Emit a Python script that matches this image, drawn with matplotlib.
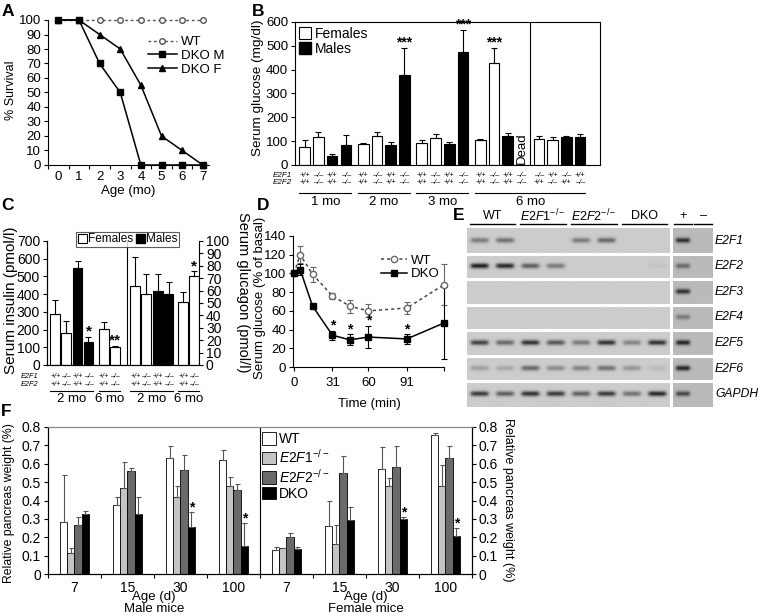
import numpy as np
import matplotlib
matplotlib.use('Agg')
import matplotlib.pyplot as plt
from matplotlib.transforms import blended_transform_factory as btf
from matplotlib.patches import Patch

plt.rcParams['font.family'] = ['Liberation Sans', 'DejaVu Sans']
plt.rcParams['mathtext.fontset'] = 'custom'
plt.rcParams['mathtext.rm'] = 'Liberation Sans'
plt.rcParams['mathtext.it'] = 'Liberation Sans:italic'
plt.rcParams['axes.linewidth'] = 0.8
plt.rcParams['xtick.major.width'] = 0.8
plt.rcParams['ytick.major.width'] = 0.8

# ---------------- data ----------------
# A: survival
age_mo = [0, 1, 2, 3, 4, 5, 6, 7]
surv_wt = [100, 100, 100, 100, 100, 100, 100, 100]
surv_dko_m = [100, 100, 70, 50, 0, 0, 0, 0]
surv_dko_f = [100, 100, 90, 80, 55, 20, 10, 0]

# B: serum glucose (mg/dl), groups of 4 bars
b_group_labels = ['1 mo', '2 mo', '3 mo', '6 mo']
b_vals = [[74, 116, 39, 84], [88, 121, 84, 377], [91, 114, 88, 474],
          [105, 426, 121, None], [110, 105, 119, 119]]
b_err = [[31, 24, 6, 42], [5, 19, 14, 114], [12, 14, 10, 94],
         [5, 65, 12, None], [11, 11, 2, 9]]
b_sex = [['F', 'F', 'M', 'M']] * 5
b_e2f1 = [['+/+', '–/–', '+/+', '–/–']] * 4 + [['–/–', '+/+', '–/–', '+/+']]
b_e2f2 = [['+/+', '–/–', '+/+', '–/–']] * 5
b_stars = {(1, 3): '***', (2, 3): '***', (3, 1): '***'}

# C: insulin / glucagon
c_ins_vals = [290, 180, 548, 130, 205, 100]
c_ins_err = [75, 70, 37, 30, 38, 9]
c_ins_sex = ['F', 'F', 'M', 'M', 'F', 'F']
c_ins_stars = {3: '*', 5: '**'}
c_glu_vals = [64, 57, 60, 57, 51, 72]
c_glu_err = [23, 16, 13, 10, 8, 4]
c_glu_sex = ['F', 'F', 'M', 'M', 'F', 'F']
c_glu_stars = {5: '*'}
c_e2f1 = ['+/+', '–/–', '+/+', '–/–', '+/+', '–/–']
c_e2f2 = ['+/+', '–/–', '+/+', '–/–', '+/+', '–/–']
c_group_labels = ['2 mo', '6 mo', '2 mo', '6 mo']

# D: glucose tolerance (% basal)
d_time = [0, 5, 15, 31, 45, 60, 91, 121]
d_wt = [100, 120, 99, 76, 65, 60, 63, 88]
d_wt_err = [0, 9, 8, 3, 7, 7, 6, 22]
d_dko = [100, 104, 65, 34, 29, 32, 30, 47]
d_dko_err = [0, 6, 0, 5, 6, 12, 5, 38]
d_star_times = [31, 45, 60, 91]

# E: RT-PCR gel band intensities
gel_genes = ['E2F1', 'E2F2', 'E2F3', 'E2F4', 'E2F5', 'E2F6', 'GAPDH']
gel_groups = ['WT', r'$\mathit{E2F1}^{-/-}$', r'$\mathit{E2F2}^{-/-}$', 'DKO']
ctrl_labels = ['+', '–']
gel_bands = np.array([
    [0.45, 0.5, 0.0, 0.0, 0.45, 0.55, 0.0, 0.0],
    [0.95, 0.9, 0.6, 0.45, 0.0, 0.0, 0.0, 0.05],
    [0.0, 0.0, 0.0, 0.0, 0.0, 0.0, 0.0, 0.0],
    [0.0, 0.0, 0.0, 0.0, 0.0, 0.0, 0.0, 0.0],
    [0.75, 0.55, 0.85, 0.65, 0.45, 0.85, 0.4, 0.85],
    [0.25, 0.2, 0.55, 0.35, 0.4, 0.5, 0.3, 0.1],
    [0.8, 0.6, 0.85, 0.8, 0.6, 0.8, 0.5, 0.9],
])
ctrl_bands = np.array([
    [0.85, 0.0], [0.5, 0.0], [0.85, 0.0], [0.4, 0.0],
    [0.9, 0.0], [0.9, 0.0], [0.7, 0.0],
])

# F: relative pancreas weight (%)
f_ages = ['7', '15', '30', '100']
f_series = ['WT', r'$\mathit{E2F1}^{-/-}$', r'$\mathit{E2F2}^{-/-}$', 'DKO']
f_colors = ['white', '#c4c4c4', '#6a6a6a', 'black']
f_male = [[0.281, 0.377, 0.632, 0.619], [0.114, 0.468, 0.417, 0.481],
          [0.265, 0.560, 0.568, 0.459], [0.327, 0.327, 0.256, 0.154]]
f_male_err = [[0.26, 0.043, 0.063, 0.054], [0.026, 0.142, 0.063, 0.049],
              [0.045, 0.015, 0.082, 0.031], [0.018, 0.093, 0.084, 0.124]]
f_female = [[0.129, 0.260, 0.572, 0.758], [0.142, 0.165, 0.481, 0.477],
            [0.200, 0.550, 0.580, 0.632], [0.136, 0.296, 0.300, 0.209]]
f_female_err = [[0.018, 0.135, 0.118, 0.012], [0.0, 0.10, 0.039, 0.118],
                [0.023, 0.09, 0.115, 0.063], [0.011, 0.067, 0.01, 0.041]]
f_star_groups = [2, 3, 6, 7]

# ---------------- helpers ----------------
W, H = 761, 616
fig = plt.figure(figsize=(W / 100, H / 100), dpi=100)
GS = 5.3


def axpx(l, t, r, b):
    return fig.add_axes([l / W, 1 - b / H, (r - l) / W, (b - t) / H])


def fy(y):
    return 1 - y / H


def ftext(x, y, s, **kw):
    fig.text(x / W, fy(y), s, **kw)


def style_ticks(ax, fs):
    ax.tick_params(direction='out', length=3, labelsize=fs, pad=2)


# ---------------- A ----------------
FA = 9.5
axA = axpx(48, 20, 209, 165)
lf, = axA.plot(age_mo, surv_dko_f, '-', color='black', marker='^', ms=5, lw=1.1, clip_on=False, zorder=3)
lw_, = axA.plot(age_mo, surv_wt, color='#555555', ls=(0, (2, 2)), marker='o', mfc='white', mec='#555555',
                ms=4, lw=1.0, clip_on=False, zorder=2)
lm, = axA.plot(age_mo, surv_dko_m, '-', color='black', marker='s', ms=4.5, lw=1.1, clip_on=False, zorder=4)
axA.set_xlim(-0.5, 7.3)
axA.set_ylim(0, 100)
axA.set_yticks(range(0, 101, 10))
axA.set_xticks(np.arange(-0.5, 7.5, 1))
axA.set_xticklabels([])
axA.set_xticks(age_mo, minor=True)
axA.set_xticklabels([str(a) for a in age_mo], minor=True)
style_ticks(axA, FA)
axA.tick_params(axis='x', which='minor', length=0, labelsize=FA, pad=4)
for s in ['top', 'right']:
    axA.spines[s].set_visible(False)
axA.legend([lw_, lm, lf], ['WT', 'DKO M', 'DKO F'], loc='upper left', bbox_to_anchor=(0.62, 0.89),
           frameon=False, fontsize=FA, handlelength=2.2, handletextpad=0.3, labelspacing=0.12,
           borderpad=0, borderaxespad=0)
ftext(11, 90, '% Survival', rotation=90, ha='center', va='center', fontsize=9)
ftext(128, 191, 'Age (mo)', ha='center', va='center', fontsize=9.5)

# ---------------- B ----------------
FB = 9.5
bL, bT, bR, bB = 295, 22, 600, 165
axB = axpx(bL, bT, bR, bB)
grp_step = 4.27
bx = [[g * grp_step + i for i in range(4)] for g in range(5)]
for g in range(5):
    for i in range(4):
        v = b_vals[g][i]
        if v is None:
            axB.text(bx[g][i], 70, 'Dead', rotation=90, ha='center', va='center', fontsize=9.5)
            continue
        fc = 'white' if b_sex[g][i] == 'F' else 'black'
        axB.bar(bx[g][i], v, width=0.78, color=fc, edgecolor='black', lw=0.8, zorder=2)
        axB.errorbar(bx[g][i], v, yerr=[[0], [b_err[g][i]]], fmt='none', ecolor='black',
                     elinewidth=0.8, capsize=2, capthick=0.8, zorder=3)
        if (g, i) in b_stars:
            axB.text(bx[g][i], v + b_err[g][i] - 8, b_stars[(g, i)], ha='center', va='bottom',
                     fontsize=10, fontweight='bold')
axB.axvline((bx[3][3] + bx[4][0]) / 2, color='black', lw=0.8)
axB.set_xlim(-0.71, 21.54)
axB.set_ylim(0, 600)
axB.set_yticks(range(0, 601, 100))
axB.set_xticks([])
style_ticks(axB, FB)
axB.legend([Patch(fc='white', ec='black', lw=0.8), Patch(fc='black', ec='black')], ['Females', 'Males'],
           loc='upper left', bbox_to_anchor=(0.012, 0.965), frameon=False, fontsize=10,
           handlelength=0.9, handleheight=0.9, handletextpad=0.3, labelspacing=0.05, borderpad=0,
           borderaxespad=0)
ftext(258, 88, 'Serum glucose (mg/dl)', rotation=90, ha='center', va='center', fontsize=9.7)
trB = btf(axB.transData, fig.transFigure)
for g in range(5):
    for i in range(4):
        axB.text(bx[g][i], fy(175), b_e2f1[g][i], transform=trB, ha='center', va='center',
                 fontsize=GS, style='italic')
        axB.text(bx[g][i], fy(183), b_e2f2[g][i], transform=trB, ha='center', va='center',
                 fontsize=GS, style='italic')
ftext(292, 175, 'E2F1', ha='right', va='center', fontsize=GS + 0.5, style='italic')
ftext(292, 183, 'E2F2', ha='right', va='center', fontsize=GS + 0.5, style='italic')
b_spans = [(bx[0][0], bx[0][3]), (bx[1][0], bx[1][3]), (bx[2][0], bx[2][3]), (bx[3][0], bx[4][3])]
for (x0, x1), lab in zip(b_spans, b_group_labels):
    axB.plot([x0 - 0.4, x1 + 0.4], [fy(193), fy(193)], transform=trB, color='black', lw=0.8, clip_on=False)
    axB.text((x0 + x1) / 2, fy(202), lab, transform=trB, ha='center', va='center', fontsize=9.5)

# ---------------- C ----------------
FC = 10
cL, cT, cR, cB = 47, 241, 199, 365
axC = axpx(cL, cT, cR, cB)
axC2 = axC.twinx()
c_x = np.cumsum([0, 1, 1.05, 1, 1.4, 1, 1.9, 1, 1.05, 1, 1.35, 1])
for k in range(6):
    fc = 'white' if c_ins_sex[k] == 'F' else 'black'
    axC.bar(c_x[k], c_ins_vals[k], width=0.9, color=fc, edgecolor='black', lw=0.8, zorder=2)
    axC.errorbar(c_x[k], c_ins_vals[k], yerr=[[0], [c_ins_err[k]]], fmt='none', ecolor='black',
                 elinewidth=0.8, capsize=2, capthick=0.8, zorder=3)
    if k in c_ins_stars:
        axC.text(c_x[k], c_ins_vals[k] + c_ins_err[k] - 12, c_ins_stars[k], ha='center', va='bottom',
                 fontsize=11, fontweight='bold')
for k in range(6):
    x = c_x[6 + k]
    fc = 'white' if c_glu_sex[k] == 'F' else 'black'
    axC2.bar(x, c_glu_vals[k], width=0.9, color=fc, edgecolor='black', lw=0.8, zorder=2)
    axC2.errorbar(x, c_glu_vals[k], yerr=[[0], [c_glu_err[k]]], fmt='none', ecolor='black',
                  elinewidth=0.8, capsize=2, capthick=0.8, zorder=3)
    if k in c_glu_stars:
        axC2.text(x, c_glu_vals[k] + c_glu_err[k] - 2, c_glu_stars[k], ha='center', va='bottom',
                  fontsize=11, fontweight='bold')
axC.axvline((c_x[5] + c_x[6]) / 2 + 0.15, color='black', lw=0.8)
axC.set_xlim(-0.76, c_x[-1] + 0.45)
axC.set_ylim(0, 700)
axC2.set_ylim(0, 100)
axC.set_yticks(range(0, 701, 100))
axC2.set_yticks(range(0, 101, 10))
axC.set_xticks([])
style_ticks(axC, FC)
style_ticks(axC2, FC)
axC.spines['top'].set_visible(False)
axC2.spines['top'].set_visible(False)
axC.spines['right'].set_visible(False)
leg = axC2.legend([Patch(fc='white', ec='black', lw=0.8), Patch(fc='black', ec='black')], ['Females', 'Males'],
                  loc='upper center', bbox_to_anchor=(0.53, 1.075), ncol=2, frameon=True, fancybox=False,
                  edgecolor='#333333', fontsize=8.5, handlelength=0.8, handleheight=0.8, handletextpad=0.1,
                  columnspacing=0.2, borderpad=0.15, borderaxespad=0)
leg.get_frame().set_linewidth(0.8)
leg.set_zorder(10)
ftext(11, 300, 'Serum insulin (pmol/l)', rotation=90, ha='center', va='center', fontsize=11)
ftext(243, 292, 'Serum glucagon (pmol/l)', rotation=-90, ha='center', va='center', fontsize=10.5)
trC = btf(axC.transData, fig.transFigure)
for k in range(12):
    axC.text(c_x[k], fy(376), c_e2f1[k % 6], transform=trC, ha='center', va='center', fontsize=GS - 0.3,
             style='italic')
    axC.text(c_x[k], fy(384), c_e2f2[k % 6], transform=trC, ha='center', va='center', fontsize=GS - 0.3,
             style='italic')
ftext(38, 376, 'E2F1', ha='right', va='center', fontsize=GS, style='italic')
ftext(38, 384, 'E2F2', ha='right', va='center', fontsize=GS, style='italic')
c_spans = [(c_x[0], c_x[3]), (c_x[4], c_x[5]), (c_x[6], c_x[9]), (c_x[10], c_x[11])]
for (x0, x1), lab in zip(c_spans, c_group_labels):
    axC.plot([x0 - 0.45, x1 + 0.45], [fy(391), fy(391)], transform=trC, color='black', lw=0.8, clip_on=False)
    axC.text((x0 + x1) / 2, fy(399), lab, transform=trC, ha='center', va='center', fontsize=9.5)

# ---------------- D ----------------
FD = 9.5
axD = axpx(293, 236, 444, 367)
axD.errorbar(d_time, d_wt, yerr=d_wt_err, fmt='none', ecolor='#666666', elinewidth=0.8, capsize=2,
             capthick=0.8, zorder=2, clip_on=False)
axD.errorbar(d_time, d_dko, yerr=d_dko_err, fmt='none', ecolor='black', elinewidth=0.8, capsize=2,
             capthick=0.8, zorder=2, clip_on=False)
hw, = axD.plot(d_time, d_wt, color='#444444', ls=(0, (2, 2)), marker='o', mfc='white', mec='#666666',
               ms=4.5, lw=1.1, zorder=3, clip_on=False)
hd, = axD.plot(d_time, d_dko, color='black', ls='-', marker='s', ms=5, lw=1.1, zorder=4, clip_on=False)
for t in d_star_times:
    k = d_time.index(t)
    axD.text(t, d_dko[k] + d_dko_err[k] - 2, '*', ha='center', va='bottom', fontsize=10,
             fontweight='bold')
axD.set_xlim(-0.8, 121)
axD.set_ylim(0, 140)
axD.set_yticks(range(0, 141, 20))
axD.set_xticks([0, 31, 60, 91, 121])
axD.set_xticklabels(['0', '31', '60', '91', ''])
style_ticks(axD, FD)
axD.tick_params(axis='x', pad=4)
for s in ['top', 'right']:
    axD.spines[s].set_visible(False)
axD.legend([hw, hd], ['WT', 'DKO'], loc='upper left', bbox_to_anchor=(0.58, 0.86), frameon=False,
           fontsize=FD, handlelength=2.0, handletextpad=0.3, labelspacing=0.12, borderpad=0,
           borderaxespad=0)
ftext(260, 298, 'Serum glucose (% of basal)', rotation=90, ha='center', va='center', fontsize=9.5)
ftext(369, 404, 'Time (min)', ha='center', va='center', fontsize=9.5)


# ---------------- E ----------------
def gel_image(bands, bg, rpx=40, lpx=40):
    nr, nl = bands.shape
    yy = (np.arange(nr * rpx) + 0.5) / rpx
    xx = (np.arange(nl * lpx) + 0.5) / lpx
    img = np.full((len(yy), len(xx)), bg)
    for r in range(nr):
        gy = np.exp(-((yy - (r + 0.48)) / 0.1) ** 2)
        for l in range(nl):
            gx = 1 / (1 + np.exp((np.abs(xx - (l + 0.5)) - 0.34) / 0.04))
            img += bands[r, l] * (0.92 - bg) * np.outer(gy, gx)
    return np.clip(img, 0, 1)


gT, gB = 228, 407
axE = axpx(467, gT, 670, gB)
axE.imshow(gel_image(gel_bands, 0.2), cmap='gray_r', vmin=0, vmax=1, aspect='auto',
           extent=(0, gel_bands.shape[1], gel_bands.shape[0], 0), interpolation='bilinear')
axEc = axpx(673, gT, 713, gB)
axEc.imshow(gel_image(ctrl_bands, 0.27), cmap='gray_r', vmin=0, vmax=1, aspect='auto',
            extent=(0, ctrl_bands.shape[1], ctrl_bands.shape[0], 0), interpolation='bilinear')
for a in (axE, axEc):
    for r in range(1, len(gel_genes)):
        a.axhline(r, color='white', lw=2.2)
    a.set_axis_off()
trE = btf(axE.transData, fig.transFigure)
for gi, lab in enumerate(gel_groups):
    x0, x1 = 2 * gi, 2 * gi + 2
    axE.plot([x0 + 0.1, x1 - 0.1], [fy(224), fy(224)], transform=trE, color='black', lw=1.0, clip_on=False)
    axE.text((x0 + x1) / 2, fy(216), lab, transform=trE, ha='center', va='center', fontsize=9)
trEc = btf(axEc.transData, fig.transFigure)
for li, lab in enumerate(ctrl_labels):
    axEc.plot([li + 0.05, li + 0.95], [fy(224), fy(224)], transform=trEc, color='black', lw=1.0,
              clip_on=False)
    axEc.text(li + 0.5, fy(216), lab, transform=trEc, ha='center', va='center', fontsize=9)
for r, gname in enumerate(gel_genes):
    axEc.text(2.1, r + 0.5, gname, ha='left', va='center', fontsize=8.7, style='italic', clip_on=False)

# ---------------- F ----------------
FF = 10
fL, fT, fR, fB = 48, 427, 472, 574
axF = axpx(fL, fT, fR, fB)
axF2 = axF.twinx()
gx = np.arange(8)
bw = 0.138
handles = []
for s in range(4):
    vals = np.array(f_male[s] + f_female[s])
    errs = np.array(f_male_err[s] + f_female_err[s])
    xs = gx + (s - 1.5) * bw
    axF.bar(xs, vals, width=bw, color=f_colors[s], edgecolor='black', lw=0.6, zorder=2)
    axF.errorbar(xs, vals, yerr=[np.zeros_like(errs), errs], fmt='none', ecolor='#555555',
                 elinewidth=0.8, capsize=1.8, capthick=0.8, zorder=3)
    handles.append(Patch(fc=f_colors[s], ec='black', lw=0.6))
    if s == 3:
        for g in f_star_groups:
            axF.text(xs[g], vals[g] + errs[g] - 0.015, '*', ha='center', va='bottom', fontsize=10,
                     fontweight='bold')
axF.axvline(3.5, color='black', lw=0.8)
axF.set_xlim(-0.5, 7.5)
axF.set_ylim(0, 0.8)
axF2.set_ylim(0, 0.8)
fticks = np.arange(0, 0.81, 0.1)
flabs = ['0'] + ['%.1f' % t for t in fticks[1:]]
axF.set_yticks(fticks)
axF.set_yticklabels(flabs)
axF2.set_yticks(fticks)
axF2.set_yticklabels(flabs)
axF.set_xticks(np.arange(-0.5, 8, 1))
axF.set_xticklabels([])
axF.set_xticks(gx, minor=True)
axF.set_xticklabels(f_ages + f_ages, minor=True)
style_ticks(axF, FF)
style_ticks(axF2, FF)
axF.tick_params(axis='x', which='minor', length=0, labelsize=FF, pad=5)
axF.spines['top'].set_color('#888888')
axF2.spines['top'].set_color('#888888')
axF.legend(handles, f_series, loc='upper left', bbox_to_anchor=(0.505, 0.965), frameon=False,
           fontsize=10, handlelength=1.0, handleheight=1.0, handletextpad=0.2, labelspacing=0.12,
           borderpad=0, borderaxespad=0)
ftext(9, 503, 'Relative pancreas weight (%)', rotation=90, ha='center', va='center', fontsize=8.8)
ftext(508, 500, 'Relative pancreas weight (%)', rotation=-90, ha='center', va='center', fontsize=9)
trF = btf(axF.transData, fig.transFigure)
for cx, sex in [(1.5, 'Male mice'), (5.5, 'Female mice')]:
    axF.text(cx, fy(597), 'Age (d)', transform=trF, ha='center', va='center', fontsize=9.5)
    axF.text(cx, fy(609), sex, transform=trF, ha='center', va='center', fontsize=9.5)

# ---------------- panel letters ----------------
for lab, x, y in [('A', 8, 12), ('B', 258, 12), ('C', 8, 205), ('D', 263, 205), ('E', 459, 215),
                  ('F', 6, 412)]:
    ftext(x, y, lab, ha='center', va='center', fontsize=12.5, fontweight='bold')

fig.savefig('out.png', dpi=100)
